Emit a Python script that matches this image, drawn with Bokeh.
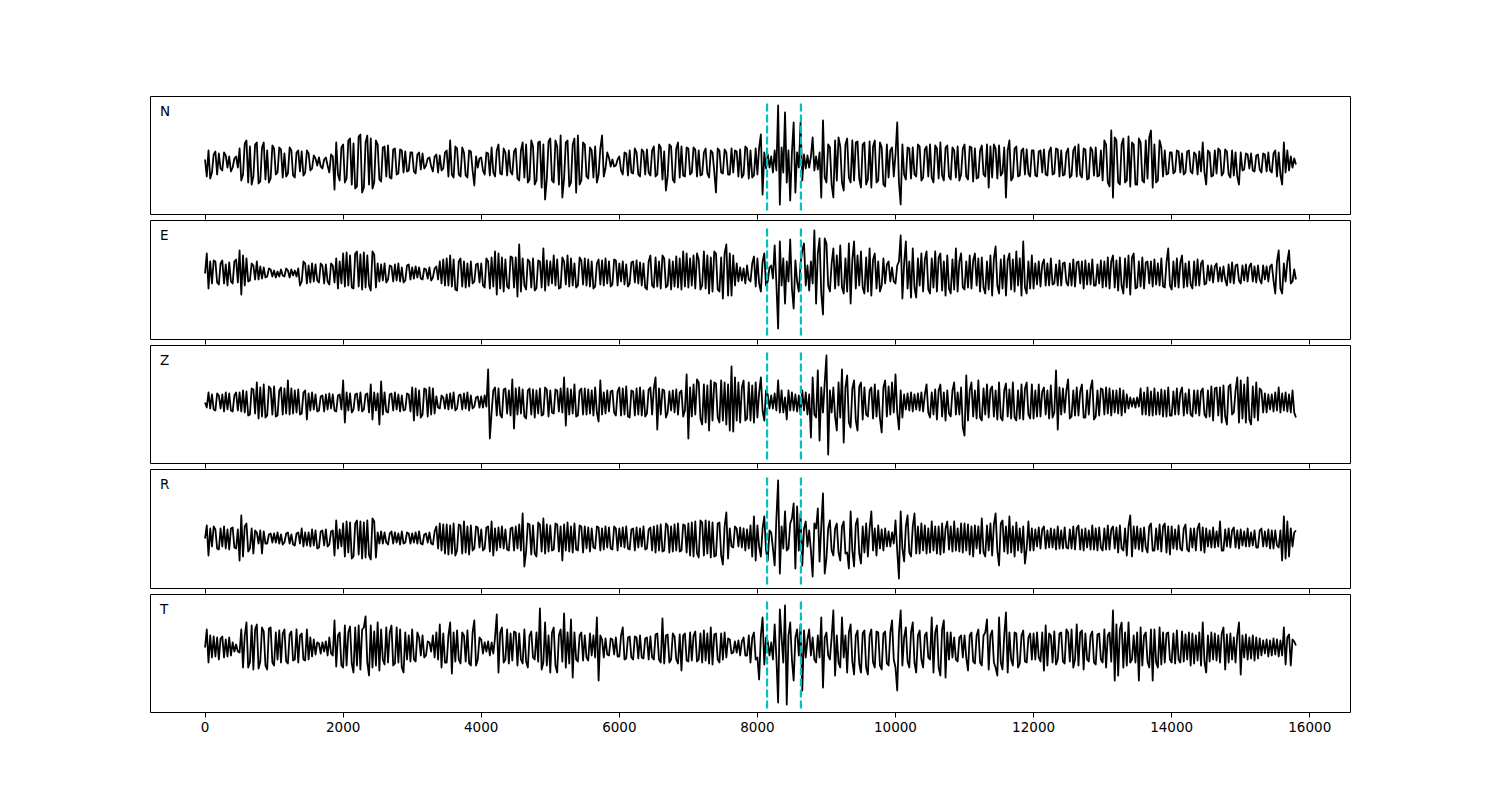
import numpy as np
from bokeh.plotting import figure
from bokeh.layouts import column
from bokeh.models import Range1d, FixedTicker, Label
from bokeh.embed import file_html
from bokeh.resources import INLINE

# ---------------- data (arbitrary units) ----------------
# each trace is stored in 1000-sample blocks (about one value every 25 samples);
# the last block covers samples 15000 .. 15800
block_len = 1000
last_block_len = 800

trace_N = [
    [3,-14,12,-16,-10,8,11,-12,9,-6, -8,10,7,-5,6,-9,-5,4,6,-5, 14,-18,-12,19,22,-20,16,-22,-14,18, 20,-21,-19,15,20,-17,12,-20,-16,17],
    [14,-12,-10,15,13,-15,9,-14,-11,15, 12,-13,-15,10,12,-9,11,-13,-10,12, 9,-8,-6,7,4,-3,5,-4,-6,3, 5,-3,-10,8,6,-27,20,-12,-18,15],
    [18,-20,-16,22,24,-22,19,-26,-24,26, 28,-30,-25,20,27,-22,24,-26,-20,22, 18,-17,-19,15,16,-14,17,-15,-16,13, 14,-12,-11,13,12,-10,11,-9,-8,10],
    [10,-9,-11,8,10,-7,9,-6,-3,4, 5,-4,-9,6,8,-10,7,-8,-6,10, 12,-14,22,-12,-15,16,14,-12,-14,15, 10,-13,-15,12,11,-8,-23,6,-5,4],
    [5,-8,-12,10,9,-13,15,-10,-14,12, 18,-11,-12,14,10,-13,12,-9,-12,11, 14,-16,-18,12,20,-15,18,-20,-17,22, 16,-22,-18,20,21,-25,18,-37,-16,21],
    [24,-18,-20,22,16,-22,27,-35,-16,20, 22,-24,-20,18,24,-30,27,-22,-18,20, 18,-14,-16,15,12,-15,16,-20,-12,14, 27,-14,-6,10,5,-4,3,-4,-3,3],
    [6,-8,-12,10,9,-13,12,-10,-11,14, 10,-12,-14,13,11,-12,13,-10,-13,12, 16,-14,-12,18,15,-17,11,-28,-14,18, 16,-17,-20,14,20,-15,16,-13,-14,15],
    [14,-12,-10,15,13,-14,12,-13,-12,10, 14,-11,-15,12,10,-9,-30,14,12,-10, -11,13,10,-12,-12,14,-10,12,11,-14, 13,-15,-12,16,14,-16,12,-15,-13,14],
    [-12,15,28,-32,10,-6,8,-5,6,-10, 12,-8,57,-42,15,-10,50,-20,12,-38, 10,40,-30,10,-5,40,-18,8,-6,7, -5,6,25,-8,6,-7,10,-35,42,-15],
    [-20,18,15,-22,-35,22,-18,25,16,-20, -28,18,24,-15,-20,22,-18,20,21,-16, -25,18,20,-22,-17,21,-25,16,22,-20, -18,20,15,-22,-24,18,-15,12,15,-14],
    [8,40,-20,-42,18,-12,-17,15,14,-16, 15,-12,-14,18,16,-18,-15,13,16,-14, 18,-15,-20,17,14,-16,20,-13,-18,15, 17,-14,-17,15,12,-15,16,-18,-12,14],
    [18,-14,-17,16,15,-19,14,-16,-15,12, 17,-12,-14,18,-25,16,-15,18,14,-16, 17,-13,-10,15,-35,12,22,-18,-15,14, 16,-14,-13,12,14,-12,13,-11,-14,12],
    [12,-13,-14,11,12,-10,13,-12,-13,11, 15,-12,-11,14,13,-14,12,-13,-12,10, 14,-15,-13,12,16,-14,18,-12,-15,14, 13,-17,-16,15,12,-13,15,-14,-13,12],
    [-18,22,18,-20,-24,32,-35,25,22,-20, -22,18,24,-20,-18,26,-24,20,18,-22, -22,24,20,-18,-20,22,-16,25,32,-25, 18,-20,-18,22,15,-14,12,-12,-11,10],
    [10,-11,-9,12,11,-10,9,-12,-10,11, 12,-9,-11,10,8,-12,11,-9,20,-10, -22,12,10,-14,-13,12,-11,14,12,-13, -10,13,11,-12,-15,12,-13,10,-14,-22],
    [10,-8,-7,9,8,-6,9,-8,-9,7, 8,-7,-10,9,8,-9,10,-8,-10,9, 12,-14,10,-12,-22,20,-10,12,-8,6,-5,4,-2],
]

trace_E = [
    [0,20,-15,12,-10,13,12,-9,-11,10, 13,-10,9,-12,11,-8,-10,12,14,-9, 23,-21,18,-12,15,-8,-7,10,8,-6, 12,-6,7,-5,6,-4,-3,5,4,-3],
    [3,-4,2,-3,4,-2,-3,5,3,-4, 4,-2,3,-3,5,-12,-8,12,10,-10, 8,-9,10,-8,9,-7,-9,10,8,-10, 9,-8,-11,10,8,-9,15,-15,12,-10],
    [20,-13,21,-12,18,-14,-15,20,22,-13, 19,-16,21,-14,18,-12,-17,22,19,-14, 10,-8,9,-7,10,-9,-6,8,7,-8, 9,-7,10,-8,6,-9,-7,8,9,-6],
    [6,-5,7,-4,6,-5,-6,5,4,-5, 6,-7,-4,5,7,-6,12,-10,14,-12, 15,-12,18,-13,14,-16,-17,12,15,-13, 12,-14,10,-13,12,-10,-8,9,10,-9],
    [10,-12,-14,15,12,-15,16,-13,22,-21, 20,-15,16,-18,14,-13,-15,17,16,-14, 16,-23,29,-18,15,-12,-16,14,12,-14, 15,-17,-15,13,12,-14,25,-17,13,-12],
    [12,-10,18,-12,14,-15,-14,16,12,-11, 18,-13,15,-12,10,-14,-12,16,13,-11, 15,-12,14,-13,12,-15,-13,10,14,-11, 13,-12,15,-10,12,-13,-11,14,13,-12],
    [10,-8,12,-11,9,-13,-10,11,12,-9, 13,-10,11,-12,10,-14,-16,12,18,-12, -14,16,-13,12,-15,18,15,-14,-12,14, -16,12,-13,17,-14,15,-16,22,-13,20],
    [-14,15,-12,18,-15,20,14,-16,-12,22, -15,18,-20,16,-18,22,20,-16,-18,16, -25,20,29,-22,20,-22,18,-12,10,-8, 6,-7,5,-10,8,-6,-8,10,17,-13],
    [15,-10,-18,12,20,-12,-8,6,8,-5, 28,-10,-55,32,-12,15,-30,12,-8,34, -15,-35,13,-8,-18,10,23,30,-12,8, -17,12,-10,43,-30,20,35,-20,-41,35],
    [30,-12,-18,10,25,-15,18,-12,28,-14, -20,15,-18,30,-30,14,32,-15,18,-12, 22,-14,-20,16,-18,25,-22,14,20,-15, 12,-18,-12,15,-10,9,12,-8,6,-8],
    [-10,8,12,38,-25,10,32,-15,12,-24, 25,-14,-24,15,-12,20,-18,14,22,-16, -20,15,-14,22,-18,16,20,-17,12,-22, 18,-15,-20,14,-16,25,-18,12,20,-14],
    [-16,12,-14,18,-15,13,20,-12,15,-18, 16,-14,-20,12,-16,18,-22,15,27,-12, -20,14,-15,18,-22,13,20,-16,14,-18, 22,-12,15,-22,32,-14,-20,12,-15,18],
    [-15,10,-11,12,-13,9,14,-12,10,-12, 15,-11,-10,9,-12,13,-12,10,11,-9, -12,10,-12,14,-13,11,12,-10,12,-15, 13,-11,10,-11,14,-12,-12,9,-10,13],
    [-14,12,-13,16,-15,12,18,-14,13,-17, 16,-12,-20,15,-14,18,-21,16,20,-15, -14,12,-13,16,-15,11,12,-10,12,-13, 14,-11,10,-12,15,-13,-14,11,25,-12],
    [-16,12,-13,15,-14,11,18,-14,10,-13, 12,-11,-15,12,-12,14,-12,10,13,-11, -10,8,-7,8,-9,7,10,-8,6,-8, 7,-6,-12,9,-9,11,-10,8,9,-7],
    [-10,8,-7,9,-8,7,10,-8,7,-9, 8,-6,-10,8,-6,7,-8,7,9,-7, -20,12,23,-15,-20,10,-8,12,23,-10,-8,4,-6],
]

trace_Z = [
    [0,-5,10,-6,8,-7,-8,9,7,-6, 8,-9,10,-7,9,-8,-9,7,10,-8, 10,-9,12,-10,11,-13,-12,14,13,-11, 20,-16,15,-14,18,-15,-13,16,14,-12],
    [16,-14,-13,12,15,-12,14,-11,22,-12, 14,-11,12,-10,13,-12,-11,10,12,-17, 9,-8,10,-7,8,-9,-8,6,7,-9, 8,-7,9,-6,8,-8,-9,7,8,-7],
    [22,-20,10,-8,9,-10,-7,8,9,-8, 10,-9,-7,8,9,-10,18,-17,10,-8, 9,-22,21,-12,10,-9,-10,8,9,-8, 10,-7,8,-9,7,-8,-7,9,8,-9],
    [15,-18,14,-13,12,-15,-12,14,13,-14, 15,-12,14,-11,6,-5,-6,7,5,-6, 8,-7,9,-6,10,-8,-6,7,8,-7, 9,-6,10,-8,7,-6,-4,5,6,-5],
    [6,-5,7,-4,33,-36,-10,12,15,-13, 14,-12,-15,13,14,-11,12,-13,23,-26, 14,-12,15,-11,13,-14,-16,12,14,-12, 13,-15,12,-11,14,-13,-12,15,13,-14],
    [12,-10,-11,13,12,-9,14,-10,25,-23, 14,-12,13,-11,18,-14,-13,12,14,-12, 14,-12,13,-11,12,-13,15,-10,-19,22, -12,10,-11,12,-9,11,12,-10,-13,11],
    [15,-13,14,-12,16,-14,-15,12,11,-13, 14,-12,15,-13,12,-14,-11,13,15,-12, 14,25,-27,14,-12,13,12,-15,-10,11, -8,12,-10,13,-12,10,12,-14,-8,28],
    [-36,15,-14,18,-12,23,20,-16,-22,18, -20,17,-28,22,-18,20,19,-15,-20,22, -18,20,-22,18,-28,36,-29,25,-18,20, -20,15,22,-18,-16,20,-18,17,-20,20],
    [-15,10,25,-8,-18,12,8,-6,7,-6, 9,-8,22,-10,12,-10,5,-17,12,-8, 10,-8,8,-9,7,-12,12,-8,10,-12, 8,-35,25,-12,-15,32,-38,15,-10,20],
    [47,-52,12,-10,15,-14,-28,20,-15,33, -40,15,27,-20,-25,14,22,-18,-28,16, 20,-17,15,-12,-14,12,15,-16,18,-14, 12,-16,-30,15,22,-14,16,-12,20,-10],
    [28,-10,-27,12,-15,8,-7,9,-8,10, -9,8,-7,9,-8,10,-9,8,18,-10, -15,10,-12,13,-17,12,18,-14,10,-18, 12,-11,-14,12,20,-12,10,-12,15,-25],
    [-33,27,-18,12,20,-14,12,-16,22,-15, -18,14,-12,18,-15,13,16,-14,12,-17, 20,-15,-18,12,19,-14,13,-16,20,-15, -18,12,-16,18,-17,14,20,-12,-16,18],
    [-16,12,-14,18,-14,11,15,-12,12,-16, 17,-15,-10,32,-27,15,-12,14,-10,12, 23,-16,-14,12,-13,15,-13,11,18,-15, -15,12,-12,14,22,-17,-14,12,-13,14],
    [13,-12,15,-11,14,-13,12,-10,12,-11, 14,-13,12,-10,8,-6,5,-4,4,-5, 5,-4,14,-12,10,-12,15,-13,11,-13, 14,-12,10,-12,13,-14,12,-14,15,-13],
    [-13,11,-12,14,-12,10,15,-13,9,-11, 13,-12,-14,12,-11,12,-13,11,14,-12, -15,12,-14,16,-18,14,15,-13,15,-20, 17,-14,-22,16,18,-12,-10,12,25,-20],
    [22,-16,18,-20,25,-17,-22,16,-15,20, -18,14,12,-10,9,-10,8,-7,8,-9, 10,-8,15,-10,9,-8,10,-9,8,-10,12,-10,-15],
]

trace_R = [
    [0,13,-17,10,-8,12,9,-10,-11,10, -8,12,-10,9,-11,10,11,-9,-10,9, -22,23,-18,12,15,-13,-10,10,-15,8, 6,-5,8,-15,7,-5,-5,4,5,-4],
    [5,-4,6,-5,4,-6,-4,5,6,-5, 4,-6,-7,5,6,-5,10,-8,6,-7, 6,-8,9,-7,8,-10,-9,7,8,-7, 9,-8,-6,7,8,-17,18,-10,9,-8],
    [15,-18,17,-14,16,-20,-18,15,18,-16, 17,-20,16,-19,18,-17,-21,20,17,-19, 6,-5,7,-5,6,-4,-6,5,7,-5, 6,-4,5,-6,7,-5,-4,6,5,-5],
    [5,-4,6,-5,7,-5,-6,4,5,-4, 6,-5,-6,7,12,-10,15,-12,14,-15, 14,-16,13,-15,15,-17,-12,14,13,-15, 17,-14,12,-16,13,-12,-10,12,11,-9],
    [9,-12,-10,11,12,-13,17,-17,10,-12, 11,-9,12,-10,9,-11,-12,10,11,-12, 12,-10,14,-12,25,-28,-13,15,14,-16, 13,-15,-18,16,14,-13,20,-15,14,-13],
    [13,-12,-11,15,14,-13,12,-22,14,-12, 16,-13,12,-14,15,-11,-12,13,12,-14, 12,-10,11,-13,10,-9,-10,12,11,-12, 10,-11,12,-9,11,-10,-11,12,10,-12],
    [10,-8,11,-9,12,-10,-11,9,10,-12, 11,-9,10,-8,12,-11,-10,9,11,-12, 12,-14,13,-12,14,-13,-12,15,13,-14, 12,-13,14,-12,15,-13,-12,14,13,-14],
    [15,-17,16,-18,17,-15,-19,18,16,-17, 18,-15,17,-19,16,-18,-17,15,16,-17, -26,12,26,-20,10,-8,-9,12,10,-8, 11,-9,10,-12,9,-10,13,-18,22,-22],
    [13,-8,-18,10,22,-12,-22,8,6,-10, -27,20,58,-35,12,-10,27,-12,-10,15, 20,35,-30,32,-12,25,-27,10,17,-8, 8,-12,-38,15,10,30,-23,12,45,-35],
    [-20,10,18,-12,-17,10,15,-14,-22,12, 17,-15,-14,-30,27,-12,-28,14,20,-15, -25,12,-14,15,-18,10,27,-12,10,-17, 13,-10,9,-12,10,-8,7,-8,6,-5],
    [18,-12,-40,27,-10,-23,12,23,-14,-18, 12,25,-15,12,-15,15,-12,13,-15,10, -14,17,-12,12,-15,12,-16,15,-14,10, 17,-11,12,-13,17,-12,10,-13,15,-14],
    [15,-12,14,-16,12,-18,13,-10,12,-15, 20,-14,-18,13,-12,15,-17,14,25,-12, -27,15,18,-13,12,-15,22,-14,12,-18, 16,-12,10,-14,12,-25,-10,17,-12,10],
    [-12,9,-8,11,-10,9,12,-10,8,-9, 10,-9,9,-11,12,-10,8,-10,11,-9, -10,9,-10,12,-11,10,13,-11,9,-12, 10,-9,8,-11,13,-11,10,-12,11,-9],
    [-12,10,-11,13,-11,9,12,-10,11,-14, 13,-10,-12,10,-17,12,23,-18,12,-10, 12,-11,10,-13,11,-9,-14,12,15,-12, -12,10,-11,14,-13,12,15,-14,12,-16],
    [12,-10,9,-11,13,-10,-12,10,14,-11, -13,10,-9,10,-12,10,15,-12,11,-14, 10,-8,8,-9,11,-9,7,-8,17,-12, -12,9,-8,10,-9,8,11,-9,8,-10],
    [9,-7,7,-8,10,-8,6,-7,8,-9, -9,8,10,-8,7,-8,9,-10,8,-10, 8,-7,-9,8,-22,22,-20,17,-18,10,-8,6,8],
]

trace_T = [
    [0,18,-15,12,-10,11,-9,10,-12,9, 11,-10,8,-9,10,-8,5,-4,3,-4, -5,18,-20,12,25,-20,-15,22,-22,18, 23,-21,-14,20,16,-18,-22,19,20,-15],
    [-18,15,-12,17,-15,14,18,-14,-16,13, 16,-13,-12,18,-15,12,14,-12,-13,18, -12,10,-9,8,-7,5,4,-6,5,-4, 6,-8,10,-6,-8,27,-19,12,15,-18],
    [-20,22,-18,15,21,-16,-25,20,-18,22, -22,18,20,31,-15,-28,22,-20,16,-18, 25,-23,18,-12,-17,20,-15,15,22,-18, -16,20,-15,18,-20,-25,15,-12,12,-14],
    [18,-12,-14,15,10,-8,12,-10,-8,6, 5,-4,12,-10,15,-12,23,-20,14,-15, -15,12,25,-26,15,-14,17,-12,-16,15, 12,-14,17,-16,-18,15,27,-18,-12,10],
    [8,-6,5,-4,6,-8,5,-6,10,33, -25,15,20,-15,-12,18,-16,14,-13,16, 15,-18,14,-12,-16,18,-14,-20,12,16, -10,-12,15,-14,39,-22,-15,25,-18,12],
    [-25,15,20,-18,-25,12,18,-14,34,-20, 15,-16,28,-30,15,-12,-14,12,15,-13, 12,-10,-13,14,-8,12,-10,30,-33,12, 8,-10,9,-7,-8,9,8,-7,10,-9],
    [-9,12,20,-12,-11,10,11,-10,-12,11, 10,-11,12,-10,-11,9,10,-12,11,-10, -12,13,14,-12,-15,29,-16,12,13,-15, -12,14,11,-12,-16,13,-23,12,14,-13],
    [-14,15,-13,12,16,-14,-12,14,-15,17, -13,14,-16,20,-17,13,14,-12,-15,14, -12,15,-10,9,8,-6,-5,6,-5,7, -8,6,10,-8,-8,12,-15,10,15,-12],
    [-10,-32,12,30,-17,10,6,-8,5,-12, 23,-10,-55,38,10,-15,42,-57,12,25, -12,-33,10,18,-8,23,-43,17,-10,8, 18,-8,10,-12,-15,12,-10,30,-40,10],
    [15,-8,-12,10,37,-28,12,-15,-20,30, -10,12,-25,15,23,-14,-27,12,17,-16, -25,14,17,-20,-27,12,18,-15,-20,16, 15,-18,-22,14,16,-16,-18,15,27,-12],
    [-20,-43,15,37,-18,10,20,-14,-20,15, 25,-15,-25,12,17,-12,-20,12,15,-10, -12,30,-25,15,22,-20,-28,18,27,-30, 15,-12,15,-10,10,-12,-14,10,12,-10],
    [12,-10,-23,12,15,-14,-16,12,18,-15, -18,12,15,28,-22,12,17,-15,-20,-28, 30,-15,-22,12,35,-25,15,-12,-18,15, 14,-20,-16,12,17,-14,-15,10,14,-12],
    [14,-12,15,-10,-14,15,-23,22,-18,14, 12,-15,16,-17,-12,14,15,-14,-16,18, 15,-14,18,-20,-12,23,-18,15,17,-22, 14,-12,-14,12,16,-15,-17,13,14,-12],
    [-15,18,-20,12,15,-14,37,-33,23,-28, 18,25,-20,15,-18,25,-15,-12,12,-15, 15,-33,20,-18,12,15,-14,-20,18,-33, 18,-15,-20,20,-17,15,-15,14,15,-12],
    [-15,14,-16,17,-12,-15,16,-14,13,-12, 15,-18,14,-16,12,-13,15,-18,25,-14, -25,12,-14,15,-12,14,-13,12,-15,14, 20,-22,13,-15,14,-12,10,-15,12,25],
    [-27,12,-10,13,-12,10,-11,12,-13,10, -11,9,-8,7,-6,8,-9,7,-8,9, -7,8,-9,7,-8,20,-17,10,13,-18,8,6,2],
]

channels = ["N", "E", "Z", "R", "T"]
traces = [trace_N, trace_E, trace_Z, trace_R, trace_T]
y_limits = [(-52, 66), (-66, 53), (-61, 57), (-50, 69), (-65, 53)]

pick_times = [8140, 8630]

x_ticks = [0, 2000, 4000, 6000, 8000, 10000, 12000, 14000, 16000]
x_tick_labels = ["0", "2000", "4000", "6000", "8000", "10000", "12000", "14000", "16000"]
x_limits = (-790, 16590)


def block_coords(blocks):
    xs, ys = [], []
    last = len(blocks) - 1
    for i, b in enumerate(blocks):
        n = len(b)
        if i < last:
            step = block_len / n
        else:
            step = last_block_len / (n - 1)
        xs.extend(i * block_len + j * step for j in range(n))
        ys.extend(b)
    return np.array(xs), np.array(ys)


# ---------------- layout ----------------
frame_heights = [118, 119, 118, 119, 118]
FONT = "DejaVu Sans"

figs = []
for k, (name, blocks, ylim) in enumerate(zip(channels, traces, y_limits)):
    is_first = k == 0
    is_last = k == len(channels) - 1
    p = figure(
        frame_width=1200,
        frame_height=frame_heights[k],
        x_range=Range1d(*x_limits),
        y_range=Range1d(*ylim),
        output_backend="svg",
        toolbar_location=None,
        y_axis_location=None,
        min_border_left=150,
        min_border_right=134,
        min_border_top=96 if is_first else 0,
        min_border_bottom=40 if is_last else 6,
        background_fill_color="white",
        border_fill_color="white",
    )
    p.outline_line_color = "black"
    p.outline_line_width = 1
    p.outline_line_alpha = 1
    p.xgrid.visible = False
    p.ygrid.visible = False

    ax = p.xaxis[0]
    ax.ticker = FixedTicker(ticks=x_ticks)
    ax.major_label_overrides = {t: l for t, l in zip(x_ticks, x_tick_labels)}
    ax.major_tick_in = 0
    ax.major_tick_out = 5
    ax.minor_tick_in = 0
    ax.minor_tick_out = 0
    ax.major_tick_line_color = "black"
    ax.major_tick_line_width = 1
    ax.axis_line_color = None
    if is_last:
        ax.major_label_text_font = FONT
        ax.major_label_text_font_size = "13.5px"
        ax.major_label_text_color = "black"
        ax.major_label_standoff = 4
    else:
        # tick marks only: labels are not drawn on the upper panels
        ax.major_label_text_font_size = "1px"
        ax.major_label_text_color = None
        ax.major_label_standoff = 0

    xs, ys = block_coords(blocks)
    p.line(xs, ys, line_color="black", line_width=1.8, line_join="round")

    y_lo = ylim[0] + 4
    y_hi = ylim[1] - 5
    for t in pick_times:
        p.segment(x0=t, y0=y_lo, x1=t, y1=y_hi, line_color="#00bfbf",
                  line_width=2.2, line_dash="8 3")

    span_x = x_limits[1] - x_limits[0]
    span_y = ylim[1] - ylim[0]
    p.add_layout(Label(
        x=x_limits[0] + 0.008 * span_x,
        y=ylim[0] + 0.875 * span_y,
        text=name,
        text_font=FONT,
        text_font_size="13.5px",
        text_color="black",
        text_baseline="alphabetic",
    ))
    figs.append(p)

layout = column(*figs, spacing=0)
open("out.html", "w").write(file_html(layout, INLINE))
